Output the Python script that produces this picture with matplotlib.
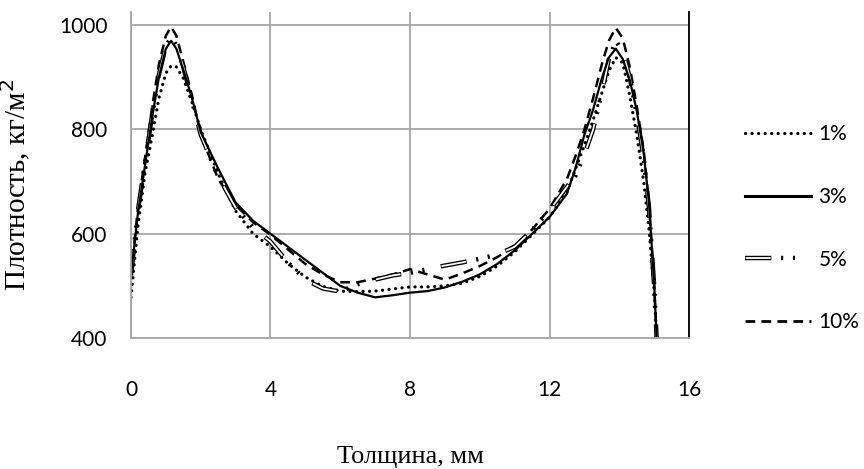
import matplotlib
matplotlib.use("Agg")
import matplotlib.pyplot as plt
from matplotlib.lines import Line2D

plt.rcParams['lines.scale_dashes'] = False

# thickness, mm
x_pts = [0, 0.2, 0.4, 0.6, 0.8, 1.0, 1.15, 1.3, 1.5, 1.75, 2.0, 2.5, 3.0, 3.5, 4.0,
         4.5, 5.0, 5.5, 6.0, 6.5, 7.0, 7.5, 8.0, 8.5, 9.0, 9.5, 10.0, 10.5, 11.0,
         11.5, 12.0, 12.5, 12.75, 13.0, 13.25, 13.5, 13.7, 13.9, 14.1, 14.3, 14.5,
         14.7, 14.85, 15.0, 15.07]

# density, kg/m2
dens_1 = [478, 615, 715, 785, 860, 908, 922, 920, 898, 852, 800, 715, 644, 600, 575,
          543, 517, 499, 490, 489, 490, 494, 498, 498, 500, 505, 518, 538, 565,
          598, 632, 680, 725, 770, 818, 870, 912, 938, 928, 865, 790,
          700, 610, 490, 400]
dens_3 = [520, 640, 730, 820, 900, 955, 970, 955, 915, 860, 795, 725, 660, 625, 600,
          575, 550, 525, 500, 487, 478, 482, 487, 490, 497, 508, 522, 542, 568,
          600, 632, 677, 727, 790, 838, 898, 938, 955, 935, 895, 836,
          755, 660, 505, 400]
dens_5 = [520, 645, 735, 825, 905, 960, 976, 962, 920, 855, 790, 710, 650, 612, 585,
          545, 512, 495, 489, 503, 512, 520, 525, 532, 539, 545, 552, 560, 575,
          607, 645, 690, 712, 752, 800, 870, 935, 970, 950, 900, 830,
          745, 650, 500, 400]
dens_10 = [520, 650, 745, 840, 925, 980, 997, 980, 930, 865, 790, 705, 655, 622, 598,
           570, 542, 522, 507, 507, 514, 522, 532, 522, 512, 524, 538, 555, 578,
           608, 648, 705, 750, 800, 860, 925, 970, 995, 975, 920, 845,
           760, 660, 505, 400]

labels = ['1%', '3%', '5%', '10%']

dot_style = (0, (0.1, 4.6))
dash_style = (0, (7, 4.5))
dd_black = (0, (19, 7, 1.5, 7, 1.5, 12))
dd_white = (47.5, (18, 30))

fig = plt.figure(figsize=(8.64, 4.69), dpi=100)
ax = fig.add_axes([0.1516, 0.2793, 0.6459, 0.6947])

ax.plot(x_pts, dens_1, color='black', lw=2.3, linestyle=dot_style,
        dash_capstyle='round')
ax.plot(x_pts, dens_10, color='black', lw=1.8, linestyle=dash_style)
ax.plot(x_pts, dens_5, color='black', lw=3.2, linestyle=dd_black)
ax.plot(x_pts, dens_5, color='white', lw=1.3, linestyle=dd_white)
ax.plot(x_pts, dens_3, color='black', lw=1.6)

ax.set_xlim(0, 16)
ax.set_ylim(400, 1025)
ax.set_xticks([0, 4, 8, 12, 16])
ax.set_yticks([400, 600, 800, 1000])
ax.grid(True, color='#a6a6a6', lw=1.3)
ax.set_axisbelow(True)
ax.tick_params(length=0, labelsize=15)
ax.tick_params(axis='x', pad=30)
ax.tick_params(axis='y', pad=17)
for lab in ax.get_xticklabels() + ax.get_yticklabels():
    lab.set_family('Lato')

ax.spines['top'].set_visible(False)
ax.spines['left'].set_color('#a6a6a6')
ax.spines['left'].set_linewidth(1.3)
ax.spines['bottom'].set_color('#a6a6a6')
ax.spines['bottom'].set_linewidth(1.3)
ax.spines['right'].set_color('black')
ax.spines['right'].set_linewidth(1.3)

ax.set_xlabel('Толщина, мм', family='Liberation Serif', fontsize=19)
ax.xaxis.set_label_coords(0.5, -0.33)
ax.set_ylabel('Плотность, кг/м$^2$', family='Liberation Serif', fontsize=21)
ax.yaxis.set_label_coords(-0.175, 0.47)

handles = [
    Line2D([], [], color='black', lw=2.3, linestyle=dot_style, dash_capstyle='round'),
    Line2D([], [], color='black', lw=2.2),
    (Line2D([], [], color='black', lw=3.2, linestyle=dd_black),
     Line2D([], [], color='white', lw=1.3, linestyle=dd_white)),
    Line2D([], [], color='black', lw=2.0, linestyle=dash_style),
]
leg = fig.legend(handles, labels, loc='upper left', bbox_to_anchor=(0.84, 0.775),
                 frameon=False, handlelength=3.2, handletextpad=0.35,
                 labelspacing=2.05, prop={'family': 'Lato', 'size': 15})

fig.savefig('out.png', dpi=100)
